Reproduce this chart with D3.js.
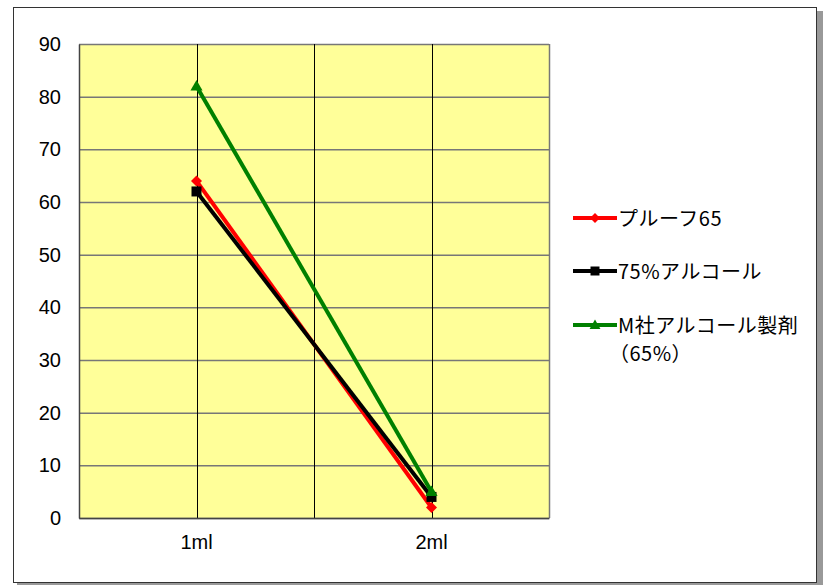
<!DOCTYPE html>
<html><head><meta charset="utf-8">
<script src="https://cdn.jsdelivr.net/npm/d3@7"></script>
<style>body{margin:0;background:#fff}svg{display:block}</style>
</head><body>
<script>
const categories = ["1ml", "2ml"];
const seriesNames = ["プルーフ65", "75%アルコール", "M社アルコール製剤"];
const proof65 = [64, 2];
const alcohol75 = [62, 4];
const mCompany = [82, 5];
const yTicks = [0, 10, 20, 30, 40, 50, 60, 70, 80, 90];

const W = 823, H = 585;
const svg = d3.select("body").append("svg").attr("width", W).attr("height", H);

// shadow + frame
svg.append("rect").attr("x", 17).attr("y", 11).attr("width", 806).attr("height", 574).attr("fill", "#999");
svg.append("rect").attr("x", 13.5).attr("y", 7.5).attr("width", 803).attr("height", 575).attr("fill", "#fff").attr("stroke", "#333").attr("stroke-width", 1);

const L = 79, R = 549, T = 44, B = 518;
const x = d3.scaleBand().domain(categories).range([L, R]);
const y = d3.scaleLinear().domain([0, 90]).range([B, T]);

svg.append("rect").attr("x", L).attr("y", T).attr("width", R - L).attr("height", B - T).attr("fill", "#ffff99");

// horizontal gridlines
svg.append("g").selectAll("line").data(yTicks).join("line")
  .attr("x1", L).attr("x2", R).attr("y1", d => y(d) + 0.5).attr("y2", d => y(d) + 0.5)
  .attr("stroke", "#777").attr("stroke-width", 1.5);

// vertical gridlines: category centers and boundaries
const vlines = [];
categories.forEach(c => { vlines.push(x(c) + x.bandwidth() / 2); vlines.push(x(c) + x.bandwidth()); });
svg.append("g").selectAll("line").data(vlines).join("line")
  .attr("x1", d => Math.round(d) + 0.5).attr("x2", d => Math.round(d) + 0.5).attr("y1", T).attr("y2", B)
  .attr("stroke", d => Math.abs(d - R) < 1 ? "#777" : "#000").attr("stroke-width", d => Math.abs(d - R) < 1 ? 1.5 : 1);

// axes
const yAxis = d3.axisLeft(y).tickValues(yTicks).tickSize(0).tickPadding(18);
const gy = svg.append("g").attr("transform", `translate(${L},0)`).call(yAxis);
gy.select(".domain").attr("stroke", "#444").attr("stroke-width", 1.5);
gy.selectAll("text").attr("font-family", "Liberation Sans, Arial, sans-serif").attr("font-size", 20).attr("fill", "#000");

const xAxis = d3.axisBottom(x).tickSize(0).tickPadding(17);
const gx = svg.append("g").attr("transform", `translate(0,${B})`).call(xAxis);
gx.select(".domain").attr("stroke", "#444").attr("stroke-width", 1.5);
gx.selectAll("text").attr("font-family", "Liberation Sans, Arial, sans-serif").attr("font-size", 20).attr("fill", "#000");

const series = [
  { name: seriesNames[0], values: proof65, color: "#ff0000", marker: "diamond" },
  { name: seriesNames[1], values: alcohol75, color: "#000000", marker: "square" },
  { name: seriesNames[2], values: mCompany, color: "#008000", marker: "triangle" }
];
const markerPath = {
  diamond: r => `M0,${-r}L${r},0L0,${r}L${-r},0Z`,
  square: r => `M${-r},${-r}H${r}V${r}H${-r}Z`,
  triangle: r => `M0,${-r * 1.1}L${r * 1.1},${r * 0.8}L${-r * 1.1},${r * 0.8}Z`
};
const markerR = { diamond: 5.5, square: 5, triangle: 5.5 };
const cx = c => x(c) + x.bandwidth() / 2;
const line = d3.line().x((d, i) => cx(categories[i])).y(d => y(d));

series.forEach(s => {
  svg.append("path").attr("d", line(s.values)).attr("fill", "none").attr("stroke", s.color).attr("stroke-width", 4);
});
series.forEach(s => {
  svg.append("g").selectAll("path").data(s.values).join("path")
    .attr("transform", (d, i) => `translate(${cx(categories[i])},${y(d)})`)
    .attr("d", markerPath[s.marker](markerR[s.marker])).attr("fill", s.color);
});

// legend
const legY = [218, 271, 325];
series.forEach((s, i) => {
  const g = svg.append("g").attr("transform", `translate(573,${legY[i]})`);
  g.append("line").attr("x1", 0).attr("x2", 44).attr("stroke", s.color).attr("stroke-width", 4);
  g.append("path").attr("transform", "translate(22,0)").attr("d", markerPath[s.marker](markerR[s.marker] * 0.9)).attr("fill", s.color);
  g.append("text").attr("x", 45).attr("y", 7.5).attr("font-family", "Noto Sans CJK JP, sans-serif").attr("font-size", 20).attr("letter-spacing", 0.5).attr("fill", "#000").text(s.name);
});
svg.append("text").attr("x", 609).attr("y", 361).attr("font-family", "Noto Sans CJK JP, sans-serif").attr("font-size", 20).attr("letter-spacing", 0.5).attr("fill", "#000").text("（65%）");
</script>
</body></html>
